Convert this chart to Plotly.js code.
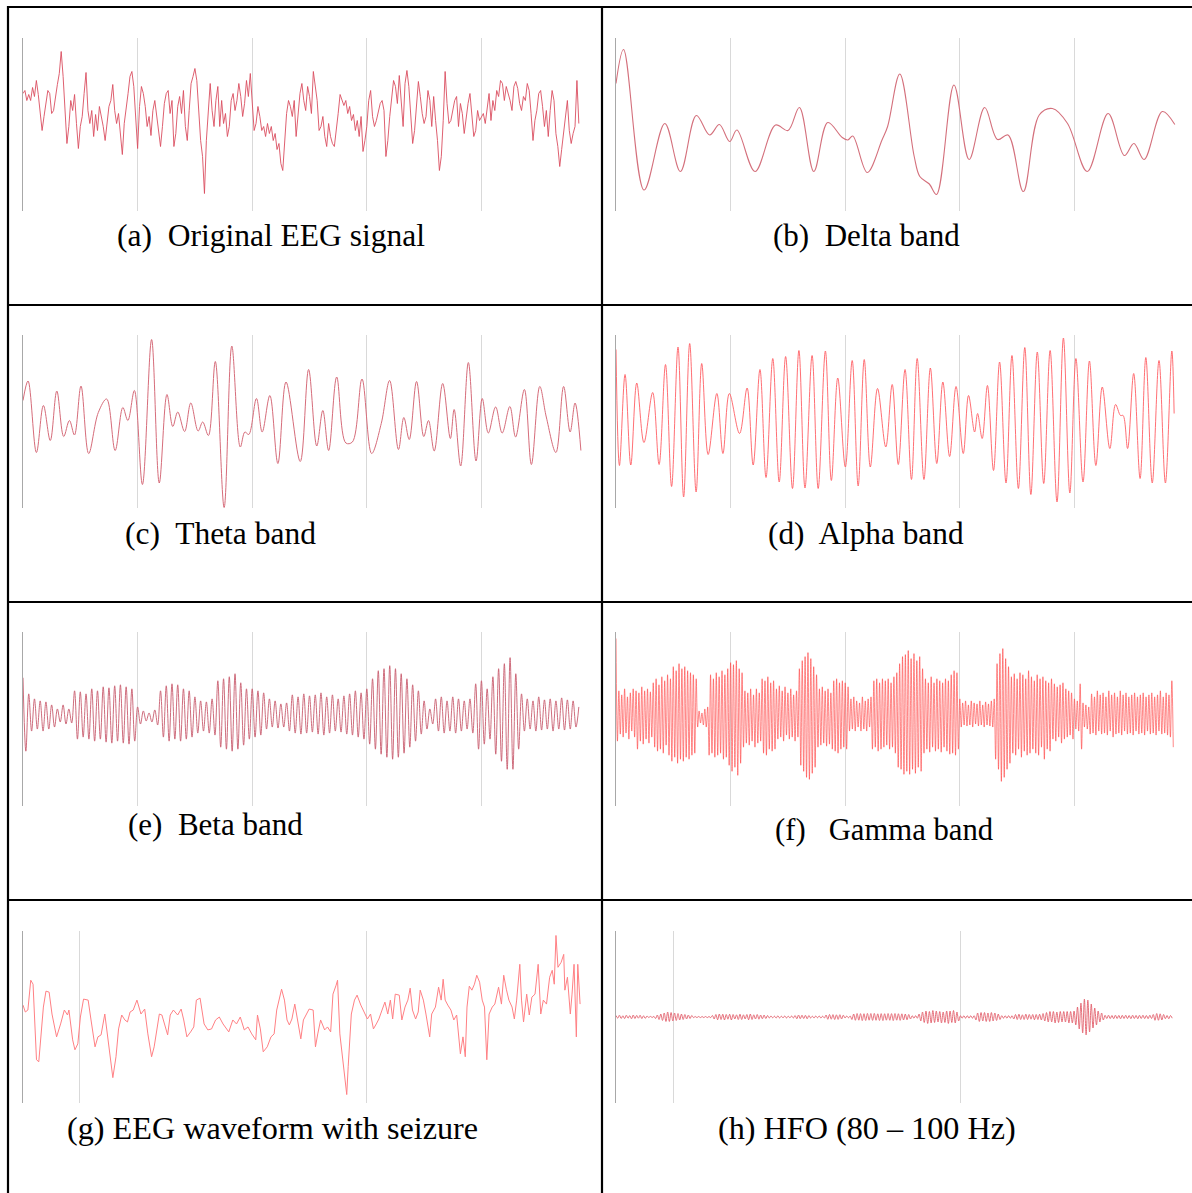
<!DOCTYPE html>
<html>
<head>
<meta charset="utf-8">
<script src="https://cdn.plot.ly/plotly-3.0.1.min.js"></script>
<style>html,body{margin:0;padding:0;background:#fff;}#chart{width:1192px;height:1193px;}</style>
</head>
<body>
<div id="chart"></div>
<script>
// ---------- DATA (time in s, amplitude in display units) ----------
// (a) Original EEG signal, sampled every 1/60 s
const eegSampleInterval = 1 / 60;
const eegV = [31,34,24,30,24,37,28,44,30,11,-6,
 8,24,34,31,11,14,30,40,51,73,48,14,-19,-2,24,14,30,1,-24,
 -2,8,31,52,14,1,14,-12,10,-6,18,8,-2,-16,1,18,24,40,14,
 1,11,-9,-30,1,14,31,48,53,38,11,
 -24,18,38,31,18,-2,8,-11,14,24,8,-9,-22,-2,21,31,34,11,24,-22,
 -9,18,28,11,34,-2,-16,14,41,48,56,44,14,-16,-32,-69,-16,18,41,14,
 -2,24,38,-2,24,1,11,-12,-2,24,31,14,24,41,28,8,21,44,28,51,
 24,-6,1,18,8,-6,-2,-12,1,-9,-2,-16,-9,-25,-19,-39,-46,-16,11,24,
 18,8,24,-12,8,31,41,24,14,38,28,11,53,38,24,-6,-2,8,-12,-22,
 1,-12,-19,-22,-2,11,30,24,19,24,11,18,4,10,-6,4,-12,8,-27,-16,
 -2,24,34,8,-2,4,14,21,24,14,-32,-16,8,24,44,38,21,49,24,-2,
 41,54,38,11,-19,-6,24,43,28,11,1,8,34,24,-2,28,4,-16,-46,-32,
 4,53,21,1,4,14,24,28,-2,21,11,-9,8,21,31,8,-12,-6,14,4,
 8,11,1,14,31,4,24,14,34,28,44,41,24,38,31,24,14,38,43,36,
 21,14,28,24,41,34,11,-16,4,14,31,34,18,-2,14,-12,14,34,24,-9,
 -22,-42,-25,-9,4,24,-6,-19,-9,-2,44,1];

// (b) Delta band
const deltaT = [0,0.066,0.245,0.426,0.562,0.701,0.817,0.902,0.992,1.055,1.213,1.392,1.501,1.600,1.726,1.848,1.974,2.023,2.066,2.192,2.321,2.370,2.476,2.602,2.651,2.734,2.797,2.949,3.081,3.217,3.329,3.421,3.554,3.693,3.808,3.940,4.112,4.294,4.436,4.519,4.608,4.767,4.876];
const deltaV = [41,75,-65.5,1,-47,9,-10.5,0,-17,-5.5,-47,-0.5,-6,17,-47,2,-13,-15.5,-11.5,-48,-15.5,-2,50.5,-32,-52,-59.5,-70,39.5,-35,17,-15,-10.5,-67,9.5,16,1,-47,11,-31,-19,-35,13,0];

// (c) Theta band
const thetaT = [0,0.044,0.117,0.178,0.238,0.295,0.355,0.405,0.449,0.506,0.573,0.657,0.730,0.804,0.871,0.915,0.972,1.042,1.122,1.189,1.256,1.307,1.350,1.410,1.464,1.528,1.568,1.618,1.678,1.755,1.822,1.896,1.936,1.970,2.037,2.087,2.154,2.224,2.295,2.419,2.492,2.563,2.616,2.667,2.737,2.817,2.874,2.958,3.042,3.126,3.199,3.276,3.323,3.370,3.434,3.497,3.538,3.588,3.662,3.729,3.762,3.819,3.886,3.953,4.007,4.060,4.124,4.181,4.248,4.298,4.375,4.436,4.509,4.566,4.650,4.717,4.774,4.817,4.868];
const thetaV = [21,40.5,-31,16,-19,30.5,-15,1,-13.5,35.5,-32,9,22.5,-29,14,1,31,-63,82,-61.5,27,-5,9.5,-10,18.5,-9.5,-0.5,-14,60,-86,75.5,-25.5,-10.5,-13,23,-10.5,26,-42,39.5,-40,52,-24.5,11,-29,44.5,-21.5,-20.5,42.5,-32,-2,41,-28,4,-18,40,-15,1,-29.5,38,-17,12,-44.5,59,-39.5,23,-11.5,14.5,-11.5,15,-15.5,32,-43,35,4.5,-31,35,-10.5,18.5,-29];

// (d) Alpha band
const alphaT = [0,0.030,0.079,0.129,0.181,0.244,0.320,0.376,0.432,0.485,0.541,0.590,0.643,0.699,0.748,0.804,0.880,0.933,0.989,1.078,1.144,1.197,1.256,1.309,1.368,1.424,1.480,1.540,1.596,1.649,1.711,1.764,1.827,1.879,1.935,2.001,2.061,2.113,2.166,2.219,2.282,2.354,2.410,2.463,2.522,2.578,2.628,2.687,2.743,2.799,2.852,2.911,2.967,3.030,3.076,3.129,3.155,3.195,3.241,3.294,3.347,3.403,3.455,3.511,3.567,3.620,3.676,3.732,3.788,3.848,3.904,3.960,4.013,4.075,4.131,4.187,4.243,4.309,4.359,4.402,4.425,4.464,4.517,4.573,4.623,4.679,4.738,4.794,4.850,4.870];
const alphaV = [72,-44,47,-43.5,38.5,-21,29,-43,57,-65,74.5,-75.5,78,-70.5,58,-33,28,-32,28,-12,33.5,-43.5,52,-56,63,-60.5,65,-67,71,-66.5,66,-67,70.5,-59,43.5,-45.5,61,-64.5,62,-45.5,33,-25.5,37,-43,52,-58,63,-58,53.5,-42,39.5,-35,35,-32,26,-10.5,8,-17,36,-49,59.5,-61.5,66,-67,74,-73,69.5,-62,71,-80.5,83.5,-71.5,63,-60.5,60.5,-44,34.5,-27,17,6,6,-27,48,-57,64,-61.5,61,-61.5,70.5,8];

// (e) Beta band, extrema every 0.025 s
const betaStep = 0.025;
const betaV = [41,-32,25,-12,20,-10,18,-12,17,-10,14,-8,10,-3,14,-5,10,-4,28,-20,27,-18,25,-20,30,-22,28,-20,32,-23,31,-24,33,-22,34,-24,32,-25,30,-22,
 12,-5,8,-2,6,-3,9,-6,28,-18,33,-22,35,-20,34,-22,30,-20,28,-18,22,-14,18,-12,17,-14,20,-16,38,-28,40,-30,42,-32,45,-30,36,-26,30,-20,
 30,-18,28,-16,26,-10,20,-8,18,-9,15,-8,16,-12,24,-14,22,-15,25,-14,23,-13,24,-15,26,-16,22,-14,24,-12,20,-13,23,-15,25,-16,28,-18,26,-20,
 30,-25,40,-30,48,-35,50,-38,53,-40,50,-38,45,-34,40,-28,34,-22,28,-15,18,-10,10,-5,20,-12,22,-14,18,-12,22,-14,20,-12,18,-10,20,-14,35,-30,
 38,-25,30,-20,42,-35,50,-42,55,-50,61,-50,45,-30,25,-12,20,-10,18,-12,22,-11,19,-10,20,-12,18,-10,21,-11,19,-10,18,-8,12];

// (f) Gamma band, extrema every 0.0125 s
const gammaStep = 0.0125;
const gammaV = [80,-22,28,-15,24,-18,30,-14,22,-20,26,-12,30,-18,
 28,-30,26,-22,32,-25,28,-20,30,-24,27,-18,
 36,-28,40,-32,34,-30,42,-34,38,-26,44,-36,40,
 -42,52,-38,48,-44,55,-40,50,-42,52,-38,48,-40,46,-36,44,-34,40,
 -8,8,-4,6,-6,10,-8,12,
 -36,44,-34,40,-38,46,-36,42,-34,48,-40,44,-38,50,-46,
 56,-52,54,-48,58,-56,50,-44,46,
 -28,28,-24,26,-26,30,-22,24,-28,30,-24,26,-22,
 40,-34,38,-36,42,-30,36,-32,38,-30,
 30,-20,33,-18,28,-22,32,-16,26,-20,30,-18,24,-22,28,-18,
 50,-46,58,-52,62,-58,66,-60,60,-54,52,-48,44,
 -28,30,-26,32,-24,28,-27,30,-25,26,
 -30,38,-32,40,-34,36,-30,38,-28,
 36,-30,32,
 -12,20,-10,22,-12,18,-8,16,-12,22,-10,18,-12,20,-8,22,
 -30,38,-28,40,-32,36,-30,40,-28,38,-26,40,-30,36,-28,42,-34,46,
 -48,55,-50,62,-55,64,-52,68,-55,60,-50,65,-54,58,-48,62,-52,50,
 -34,40,-30,36,-33,42,-28,36,-32,40,-30,38,-33,36,-28,40,-32,38,
 -35,44,-34,48,-36,46,-30,
 20,-8,16,-6,18,-7,14,-6,18,-8,16,-5,15,-7,18,-6,14,-8,17,-6,15,-7,18,-8,20,
 -40,55,-50,65,-62,70,-58,60,-50,52,-44,
 42,-34,45,-36,40,-30,46,-38,44,-32,40,-36,48,-34,42,-30,38,-34,44,-36,40,-28,42,-40,38,-30,36,-32,40,
 -20,35,-22,32,-18,34,-24,36,-20,30,-18,28,-16,26,-20,
 20,-10,18,-12,35,-30,16,-8,14,-10,12,
 -15,25,-14,22,-16,28,-12,24,-15,26,-14,22,-16,28,-12,24,-18,26,-15,22,-14,28,-16,24,-12,26,-15,22,-14,24,-16,26,-12,22,-15,24,-14,26,-16,22,-12,24,-15,26,-14,22,-16,24,-12,28,-15,22,-14,26,-16,24,-18,
 38,-28];

// (g) EEG waveform with seizure (time in ms)
const seizureT = [0,8,17,27,35,40,47,55,61,71,80,91,101,117,131,144,155,160,173,181,191,200,211,227,237,251,261,272,285,297,313,324,333,344,355,364,373,384,397,411,424,435,448,457,467,475,484,493,504,513,524,539,551,560,571,584,595,604,617,631,644,657,671,684,697,717,731,744,757,771,784,797,811,817,827,837,851,864,875,884,893,901,911,920,928,937,947,957,968,977,987,997,1011,1019,1027,1037,1051,1061,1072,1080,1091,1096,1104,1112,1120,1128,1133,1144,1155,1164,1177,1191,1200,1211,1221,1231,1240,1251,1261,1271,1280,1288,1297,1311,1320,1331,1341,1349,1357,1368,1377,1384,1395,1404,1417,1424,1437,1448,1457,1464,1471,1480,1491,1501,1511,1524,1533,1541,1547,1555,1564,1573,1581,1591,1600,1608,1616,1624,1635,1644,1657,1667,1675,1684,1693,1704,1712,1720,1731,1737,1744,1755,1764,1773,1784,1795,1804,1813,1824,1835,1844,1851,1857,1864,1875,1884,1888,1897,1907,1913,1920,1928,1933,1941];
const seizureV = [12,5,7,37,33,7,-43,-45,-23,10,26,25,3,-20,-7,7,2,7,-23,-33,-27,0,18,17,-3,-30,-20,-18,3,-23,-61,-40,-12,2,-3,-5,5,7,17,3,8,-17,-40,-30,-13,3,2,-7,-18,2,7,2,8,-3,-20,-15,-10,17,19,-7,-13,-12,-3,0,-7,-15,-3,-7,0,-13,-10,-17,-23,2,-12,-35,-30,-20,-17,7,20,28,17,-3,-8,-2,13,-5,-22,-3,2,8,7,-30,-17,-3,-13,-10,-15,23,32,37,-17,-37,-57,-78,-50,3,17,22,12,3,-2,3,-12,-7,-2,7,15,3,17,-2,23,22,-3,10,17,29,7,-2,5,27,17,3,-20,3,10,30,17,38,17,12,7,-3,2,-37,-20,-40,10,31,27,33,42,35,17,10,-43,3,10,13,30,13,42,28,17,10,-2,17,53,17,-5,23,2,20,23,53,3,17,13,40,47,33,82,50,55,63,27,40,3,23,53,-20,53,13];

// (h) HFO (80 - 100 Hz), extrema every 6 ms
const hfoStep = 6;
const hfoV = [1.5,-1.2,1.8,-1.5,1.2,-1.6,1.8,-1.2,1.4,-1.8,2,-1.5,1.6,-1.2,1.8,-1.6,1.2,-1.4,1,
 -0.5,0.6,-0.5,0.6,
 -1.5,2,-2.5,3,-3.5,4,-4.5,5,-4.5,4.5,-4,4,-3.5,3.5,-3,3,-2.5,2.5,-2,2,-1.5,1.5,
 -0.6,0.5,-0.6,0.5,-0.6,0.5,-0.6,0.5,-0.6,0.5,-0.6,
 1.5,-2,2.5,-2.8,3,-2.5,2.8,-3,2.5,-2.2,2.8,-3,2.5,-2,2.2,-2.5,2.8,-2.5,2.2,-2,2.5,-2.8,3,-2.5,2.2,-2,2.5,-2.2,2,-1.8,2,-1.5,1.5,
 -1,1,-0.8,0.8,-1,1.2,-1,0.8,-0.8,1,-1,0.8,-0.8,1,-1,
 1.5,-1.8,2,-1.7,1.8,-1.5,1.7,-1.8,1.5,
 -1,0.8,-1,1,-0.8,1,-1,0.8,-1,
 2,-2.3,2.5,-2.2,2.4,-2.5,2.2,-2.4,2.3,-2,1.8,
 -1,1,-0.8,1,
 -2.5,3,-3.3,3.5,-3.2,3.4,-3.6,3.3,-3.5,3.6,-3.2,3.5,-3.4,3.6,-3.3,3.2,-3.5,3.4,-3.6,3.3,-3.2,3.5,-3.3,3.4,-3.6,3.5,-3.2,3.3,-3.4,3.2,-3,3,-2.8,2.5,-2,
 1.3,-1.2,1.3,-1.2,
 3,-4,5,-5.5,6,-6.5,5.5,-6,6.5,-5.5,6,-5,5.5,-6,5,-5.5,6,-6.5,6,-5.5,6.5,-6,5,-4,
 1.3,-1.2,1.3,-1.2,1.3,-1.2,1.3,-1.2,1.3,
 -3,4,-4.5,4.5,-4,4.5,-4.5,4,-4.5,4.5,-4,4,-3.5,3,-2.5,
 1.3,-1.2,1.3,-1.2,1.3,-1.2,1.3,
 -2,2.5,-2.5,2.8,-2.5,2.2,-2.5,2.8,-2.5,2.5,-2.2,2.5,-2.8,2.5,-2.5,2.8,-3,3.5,-4,4.5,
 -5,5.5,-5,5.5,-6,5,-5.5,5.5,-5,5.5,-5,5.5,-6,5.5,-6,
 6,-8,10,-12,14,-16,18,-18,17,-15,13,-11,9,-8,6,-5,4,-3,
 1.7,-1.5,1.8,-1.6,1.5,-1.7,1.8,-1.5,1.6,-1.8,1.7,-1.5,1.8,-1.6,1.5,-1.7,1.8,-1.5,1.6,-1.8,1.7,-1.5,1.8,-1.6,1.5,-1.7,1.8,-1.5,
 2.5,-3.3,3.5,-3.3,3.2,-3,2.5,
 -1.7,1.5,-1.8,1.5,-1.2];

// Panel captions
const captions = [
  "(a)\u00a0 Original EEG signal",
  "(b)\u00a0 Delta band",
  "(c)\u00a0 Theta band",
  "(d)\u00a0 Alpha band",
  "(e)\u00a0 Beta band",
  "(f)\u00a0\u00a0 Gamma band",
  "(g) EEG waveform with seizure",
  "(h) HFO (80 \u2013 100 Hz)"
];
// gridline times per panel
const gridSeconds = [1, 2, 3, 4];
const gridMsLong = [196, 1196];
const gridMsHfo = [199, 1199];

// ---------- BUILD ----------
function timeAxis(values, step) { return values.map((_, i) => i * step); }

const W = 1192, H = 1193;
const px = v => v / W, py = v => 1 - v / H;

const colLeft = [px(23), px(595)];
const colRight = [px(616), px(1188)];
const rows = [[py(211), py(38)], [py(508), py(335)], [py(806), py(632)], [py(1103), py(931)]];

const panels = [
  {x: timeAxis(eegV, eegSampleInterval), y: eegV, col: colLeft, row: rows[0], range: [0, 4.991], grid: gridSeconds, color: 'rgb(218,78,96)', w: 0.9, shape: 'linear'},
  {x: deltaT, y: deltaV, col: colRight, row: rows[0], range: [0, 4.991], grid: gridSeconds, color: 'rgb(212,112,124)', w: 1.1, shape: 'spline'},
  {x: thetaT, y: thetaV, col: colLeft, row: rows[1], range: [0, 4.991], grid: gridSeconds, color: 'rgb(214,108,122)', w: 1, shape: 'spline'},
  {x: alphaT, y: alphaV, col: colRight, row: rows[1], range: [0, 4.991], grid: gridSeconds, color: 'rgb(255,95,100)', w: 0.9, shape: 'spline'},
  {x: timeAxis(betaV, betaStep), y: betaV, col: colLeft, row: rows[2], range: [0, 4.991], grid: gridSeconds, color: 'rgb(200,92,110)', w: 0.9, shape: 'spline'},
  {x: timeAxis(gammaV, gammaStep), y: gammaV, col: colRight, row: rows[2], range: [0, 4.991], grid: gridSeconds, color: 'rgb(255,70,70)', w: 0.65, shape: 'spline'},
  {x: seizureT, y: seizureV, col: colLeft, row: rows[3], range: [0, 1993], grid: gridMsLong, color: 'rgb(255,128,132)', w: 1, shape: 'linear'},
  {x: timeAxis(hfoV, hfoStep), y: hfoV, col: colRight, row: rows[3], range: [0, 1993], grid: gridMsHfo, color: 'rgb(226,96,108)', w: 0.9, shape: 'spline'}
];

// caption left edge, vertical centre, font size
const captionPos = [[115, 235, 31.5], [771, 235, 31], [123, 533, 31.5], [766, 533, 31.3], [126, 824, 31], [773, 830, 30.7], [65, 1128, 32.2], [716, 1128, 32.2]];

const traces = [];
const layout = {
  width: W, height: H,
  margin: {l: 0, r: 0, t: 0, b: 0, pad: 0},
  paper_bgcolor: '#ffffff', plot_bgcolor: 'rgba(0,0,0,0)',
  showlegend: false,
  shapes: [], annotations: []
};

panels.forEach((p, i) => {
  const n = i + 1;
  const xk = n === 1 ? 'xaxis' : 'xaxis' + n;
  const yk = n === 1 ? 'yaxis' : 'yaxis' + n;
  traces.push({
    type: 'scatter', mode: 'lines', x: p.x, y: p.y,
    xaxis: 'x' + (n === 1 ? '' : n), yaxis: 'y' + (n === 1 ? '' : n),
    line: {color: p.color, width: p.w, shape: p.shape, smoothing: 1},
    hoverinfo: 'skip'
  });
  layout[xk] = {
    domain: p.col, range: p.range, anchor: 'y' + (n === 1 ? '' : n),
    tickmode: 'array', tickvals: p.grid, showticklabels: false, ticks: '',
    showgrid: true, gridcolor: '#d9d9d9', gridwidth: 1,
    zeroline: false, showline: false, fixedrange: true
  };
  layout[yk] = {
    domain: p.row, range: [-86.5, 86.5], anchor: 'x' + (n === 1 ? '' : n),
    showgrid: false, zeroline: false, showticklabels: false, ticks: '',
    showline: true, linecolor: '#a8a8a8', linewidth: 1, fixedrange: true
  };
  layout.annotations.push({
    xref: 'paper', yref: 'paper', x: px(captionPos[i][0]), y: py(captionPos[i][1]),
    xanchor: 'left', yanchor: 'middle', showarrow: false, text: captions[i],
    font: {family: '"Liberation Serif", "Times New Roman", serif', size: captionPos[i][2], color: '#000'}
  });
});

// table borders
const border = {color: '#000', width: 2.2};
[7, 305, 602, 900].forEach(yv => layout.shapes.push({type: 'line', xref: 'paper', yref: 'paper', x0: px(7), x1: 1, y0: py(yv), y1: py(yv), line: border}));
[8, 602].forEach(xv => layout.shapes.push({type: 'line', xref: 'paper', yref: 'paper', x0: px(xv), x1: px(xv), y0: py(6), y1: 0, line: border}));

Plotly.newPlot('chart', traces, layout, {staticPlot: true, displayModeBar: false});
</script>
</body>
</html>
